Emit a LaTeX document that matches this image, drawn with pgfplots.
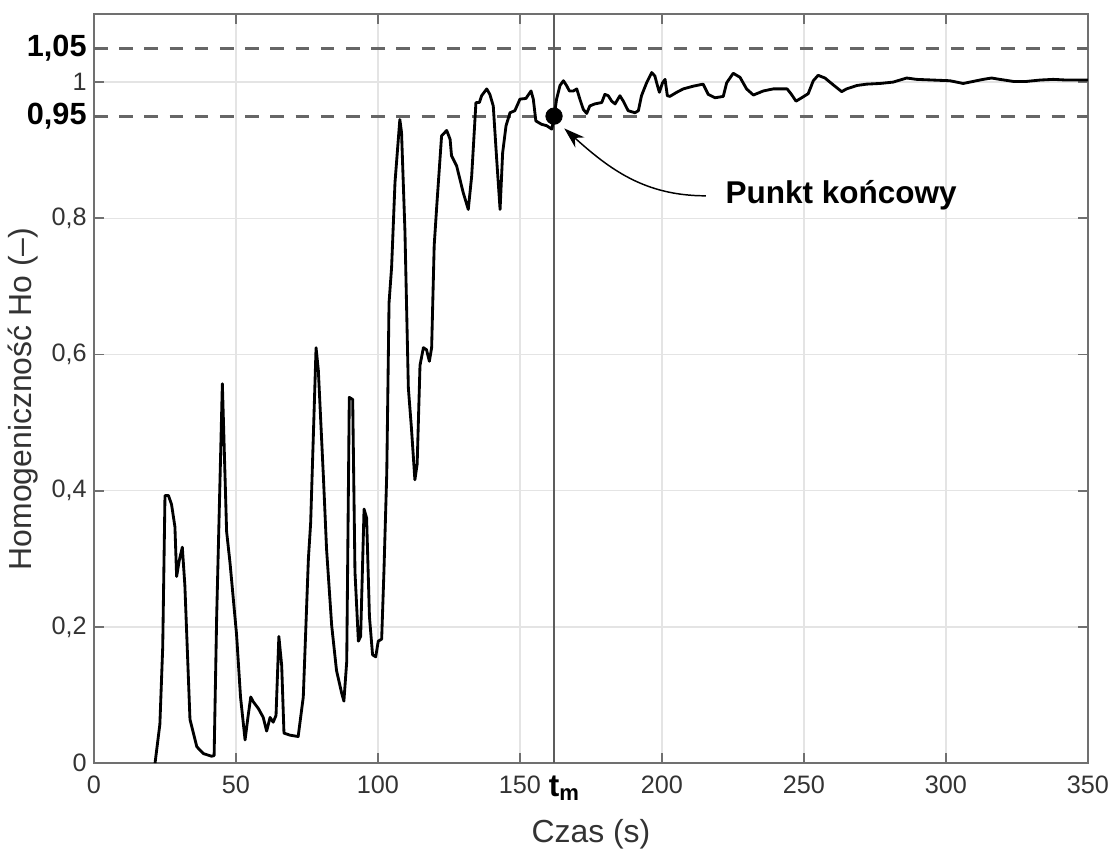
\documentclass[border=0pt]{standalone}
\usepackage{fontspec}
\setmainfont{Liberation Sans}
\usepackage{pgfplots}
\pgfplotsset{compat=1.18}
\usetikzlibrary{arrows.meta}
\definecolor{axgray}{HTML}{707070}
\definecolor{refgray}{HTML}{666666}
\definecolor{tmgray}{HTML}{5C5C5C}
\definecolor{gridgray}{HTML}{E4E4E4}
\definecolor{txtgray}{HTML}{333333}

\begin{document}
\begin{tikzpicture}
\begin{axis}[
  scale only axis, width=473.3pt, height=356.7pt,
  xmin=0, xmax=350, ymin=0, ymax=1.1,
  xtick={0,50,...,350}, ytick={0,0.2,0.4,0.6,0.8,1},
  /pgf/number format/use comma,
  /pgf/number format/assume math mode=true,
  tick label style={font=\fontsize{12}{14}\selectfont, text=txtgray},
  xticklabel style={yshift=-2.5pt},
  axis line style={axgray, line width=1pt},
  tick style={axgray, line width=0.8pt},
  major tick length=4.8pt,
  grid=major,
  major grid style={gridgray, line width=0.6pt},
  extra y ticks={0.95,1.05},
  extra y tick labels={\textbf{0,95},\textbf{1,05}},
  extra y tick style={grid=none, major tick length=0pt,
    tick label style={font=\bfseries\fontsize{14.6}{16}\selectfont, text=black}},
  extra x ticks={162},
  extra x tick labels={\textbf{t}\textsubscript{\textbf{m}}},
  extra x tick style={grid=none, major tick length=0pt,
    tick label style={font=\bfseries\fontsize{15}{17}\selectfont, text=black, xshift=5pt}},
  xlabel={Czas (s)},
  ylabel={Homogeniczność Ho (–)},
  label style={font=\fontsize{15.2}{17}\selectfont, text=txtgray},
  xlabel style={at={(axis description cs:0.5,-0.1054)}, anchor=base},
  ylabel style={at={(axis description cs:-0.049,0.486)}, anchor=south},
]
\coordinate (ll) at (rel axis cs:0,0);
\coordinate (ur) at (rel axis cs:1,1);

% reference band 0.95 / 1.05
\addplot[refgray, line width=1.4pt, dash pattern=on 6.5pt off 5.5pt] coordinates {(0,0.95) (350,0.95)};
\addplot[refgray, line width=1.4pt, dash pattern=on 6.5pt off 5.5pt] coordinates {(0,1.05) (350,1.05)};

% end point time t_m
\addplot[tmgray, line width=1.3pt] coordinates {(162,0) (162,1.1)};

% homogeneity curve
\addplot[black, line width=1.35pt, line join=round] coordinates {
(21.5,0) (23.2,0.057) (24.2,0.17) (25.0,0.393) (26.2,0.393) (27.3,0.38) (28.5,0.347)
(29.1,0.274) (30.0,0.297) (31.1,0.317) (32.0,0.261) (33.8,0.064) (36.2,0.024) (38.5,0.014)
(41.4,0.010) (42.3,0.011) (43.2,0.215) (45.2,0.557) (45.6,0.50) (46.7,0.34) (47.9,0.294)
(50.2,0.189) (51.6,0.097) (53.2,0.034) (54.3,0.07) (55.2,0.097) (56.1,0.09) (57.9,0.08)
(59.6,0.067) (60.8,0.047) (62.0,0.067) (63.1,0.06) (64.1,0.07) (65.1,0.186) (66.1,0.143)
(66.9,0.044) (69.0,0.041) (71.9,0.039) (73.7,0.097) (75.5,0.30) (76.3,0.353) (78.2,0.61)
(79.0,0.577) (80.8,0.419) (81.9,0.314) (83.7,0.202) (85.4,0.136) (87.2,0.103) (88.0,0.091)
(89.0,0.149) (89.9,0.537) (91.1,0.534) (91.9,0.281) (93.1,0.179) (93.9,0.186) (95.1,0.373)
(96.0,0.36) (97.0,0.215) (98.1,0.159) (99.2,0.156) (100.1,0.179) (101.3,0.182) (102.1,0.281)
(103.1,0.426) (103.9,0.676) (104.8,0.728) (106.0,0.853) (107.7,0.945) (108.3,0.926)
(109.5,0.781) (110.7,0.551) (111.8,0.491) (113.0,0.416) (113.8,0.439) (114.8,0.584)
(116.0,0.61) (117.1,0.607) (118.1,0.59) (118.9,0.61) (119.8,0.76) (120.7,0.818)
(122.4,0.921) (124.2,0.929) (125.4,0.916) (125.9,0.892) (127.7,0.877) (130.0,0.838)
(131.8,0.813) (133.0,0.862) (134.5,0.970) (135.7,0.970) (136.5,0.98) (138.3,0.99)
(139.4,0.982) (140.6,0.965) (141.8,0.887) (143.0,0.813) (143.9,0.896) (145.1,0.936)
(146.5,0.955) (148.2,0.958) (150.0,0.975) (152.1,0.976) (153.9,0.987) (154.7,0.975)
(155.6,0.943) (157.6,0.938) (159.4,0.936) (161.2,0.931) (162.0,0.948) (162.9,0.975)
(164.1,0.995) (165.3,1.002) (166.4,0.995) (167.4,0.987) (168.8,0.987) (170.0,0.99)
(171.1,0.975) (172.3,0.96) (173.5,0.954) (174.6,0.965) (176.4,0.968) (178.8,0.970)
(179.9,0.982) (181.1,0.98) (182.3,0.972) (183.5,0.968) (185.2,0.98) (186.4,0.972)
(188.1,0.958) (190.5,0.955) (191.7,0.958) (192.8,0.98) (194.6,0.999) (196.4,1.014)
(197.5,1.009) (198.4,0.995) (199.1,0.985) (200.2,0.999) (201.1,1.004) (201.9,0.98)
(202.8,0.979) (205.2,0.985) (207.5,0.99) (211.0,0.994) (214.5,0.997) (216.3,0.982)
(218.7,0.977) (221.6,0.979) (222.8,0.999) (225.1,1.013) (227.5,1.007) (229.8,0.99)
(232.2,0.981) (235.7,0.987) (239.2,0.99) (244.1,0.99) (245.6,0.982) (247.2,0.972)
(249.2,0.977) (251.5,0.983) (253.3,1.002) (255.0,1.010) (257.4,1.006) (260.3,0.996)
(263.3,0.986) (265.0,0.99) (268.6,0.995) (272.1,0.997) (276.8,0.998) (281.4,1.0)
(283.8,1.003) (286.2,1.006) (289.7,1.004) (295.5,1.003) (301.4,1.002) (306.1,0.998)
(309.6,1.001) (313.1,1.004) (316.1,1.006) (319.0,1.004) (323.7,1.001) (328.4,1.001)
(333.1,1.003) (337.8,1.004) (342.5,1.003) (350,1.003)
};

% end point
\addplot[only marks, mark=*, mark size=3.9pt, black] coordinates {(162,0.95)};

% annotation
\draw[black, line width=0.7pt, -{Stealth[length=10pt,width=6.5pt]}]
  (axis cs:215.5,0.833) to[out=180,in=-42] (axis cs:165.6,0.932);
\node[anchor=base west, inner sep=0pt, font=\bfseries\fontsize{15}{18}\selectfont]
  at (axis cs:222.3,0.821) {Punkt końcowy};
\end{axis}
\pgfresetboundingbox
\path[use as bounding box] ([xshift=-44.76pt,yshift=-41.43pt]ll) rectangle ([xshift=11pt,yshift=6.67pt]ur);
\end{tikzpicture}
\end{document}
